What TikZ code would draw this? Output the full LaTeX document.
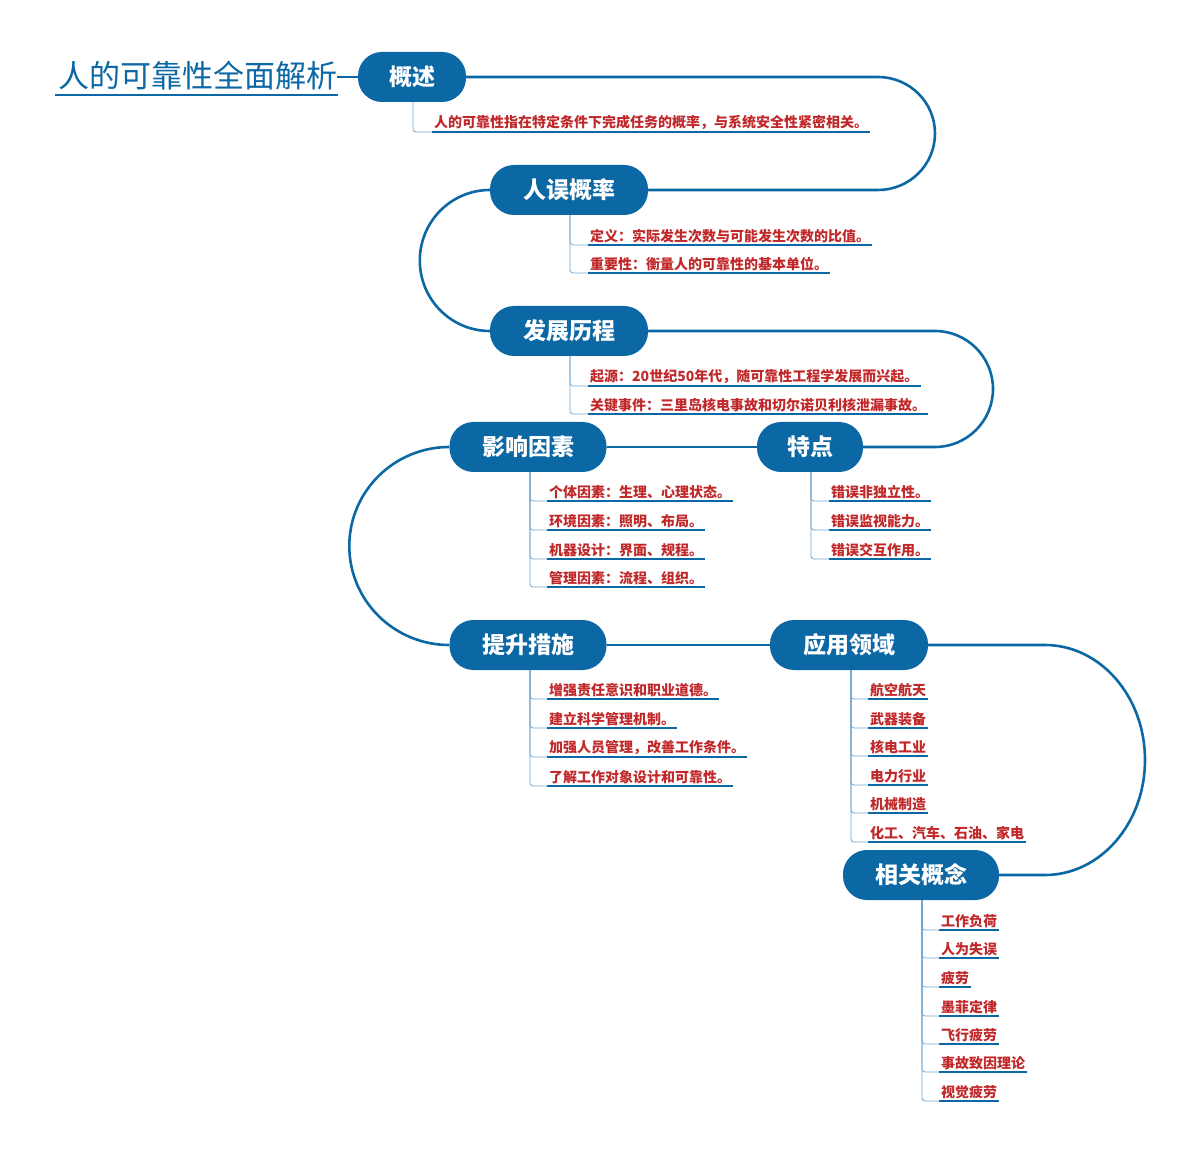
\documentclass[tikz,border=0pt]{standalone}
\usepackage{fontspec}
\setmainfont{Noto Sans CJK SC}
\definecolor{mblue}{HTML}{0B68A4}
\definecolor{mred}{HTML}{C0282A}
\definecolor{lblue}{HTML}{6FA3D0}
\tikzset{
 topic/.style={fill=mblue,text=white,rounded corners=24pt,minimum height=50pt,font=\fontsize{23}{25}\selectfont\bfseries,inner sep=0pt},
 item/.style={text=mred,font=\fontsize{14}{16}\selectfont\bfseries,inner xsep=2pt,inner ysep=2pt,anchor=south west},
 ul/.style={mblue,line width=1.6pt},
 tick/.style={lblue,line width=0.8pt,rounded corners=3pt},
 conn/.style={mblue,line width=2.6pt},
}
\newcommand\kid[5]{% parent, vertical x, underline y, start x, text
 \node[item] (#1k#3) at (#4,#3) {#5};
 \draw[ul] (#1k#3.south west)--(#1k#3.south east);
 \draw[tick] (#1.south -| #2,0) |- (#1k#3.south west);
}
\begin{document}
\begin{tikzpicture}[x=1pt,y=-1pt]
\useasboundingbox (0,0) rectangle (1200,1155);
% title
\node[text=mblue,font=\fontsize{31}{33}\selectfont,anchor=base west,inner sep=0pt] (title) at (58,88) {人的可靠性全面解析};
\draw[mblue,line width=1.2pt] (55,95) -- (338,95);
% topics
\node[topic,minimum width=108pt] (gs) at (412,77) {概述};
\node[topic,minimum width=158pt] (rw) at (569,190) {人误概率};
\node[topic,minimum width=158pt] (fz) at (569,331) {发展历程};
\node[topic,minimum width=157pt] (yx) at (528,447) {影响因素};
\node[topic,minimum width=106pt] (td) at (810,447) {特点};
\node[topic,minimum width=157pt] (ts) at (528,645) {提升措施};
\node[topic,minimum width=158pt] (yy) at (849,645) {应用领域};
\node[topic,minimum width=156pt] (xg) at (921,875) {相关概念};
% connectors
\draw[conn] (title.east |- gs.west) -- (gs.west);
\draw[conn] (gs.east) -- (878,77) arc[start angle=90,end angle=-90,x radius=57,y radius=-56.5] -- (rw.east);
\draw[conn] (rw.west) arc[start angle=90,end angle=270,x radius=70,y radius=-70.5] -- (fz.west);
\draw[conn] (fz.east) -- (935,331) arc[start angle=90,end angle=-90,x radius=58,y radius=-58] -- (td.east);
\draw[conn] (yx.east) -- (td.west);
\draw[conn] (yx.west) arc[start angle=90,end angle=270,x radius=100,y radius=-99] -- (ts.west);
\draw[conn] (ts.east) -- (yy.west);
\draw[conn] (yy.east) -- (1045,645) arc[start angle=90,end angle=-90,x radius=100,y radius=-115] -- (xg.east);
% children
\kid{gs}{413}{132}{432}{人的可靠性指在特定条件下完成任务的概率，与系统安全性紧密相关。}
\kid{rw}{570}{245}{588}{定义：实际发生次数与可能发生次数的比值。}
\kid{rw}{570}{273}{588}{重要性：衡量人的可靠性的基本单位。}
\kid{fz}{570}{386}{588}{起源：20世纪50年代，随可靠性工程学发展而兴起。}
\kid{fz}{570}{414}{588}{关键事件：三里岛核电事故和切尔诺贝利核泄漏事故。}
\kid{yx}{530}{501}{547}{个体因素：生理、心理状态。}
\kid{yx}{530}{530}{547}{环境因素：照明、布局。}
\kid{yx}{530}{559}{547}{机器设计：界面、规程。}
\kid{yx}{530}{587}{547}{管理因素：流程、组织。}
\kid{td}{811}{501}{829}{错误非独立性。}
\kid{td}{811}{530}{829}{错误监视能力。}
\kid{td}{811}{559}{829}{错误交互作用。}
\kid{ts}{530}{699}{547}{增强责任意识和职业道德。}
\kid{ts}{530}{728}{547}{建立科学管理机制。}
\kid{ts}{530}{757}{547}{加强人员管理，改善工作条件。}
\kid{ts}{530}{786}{547}{了解工作对象设计和可靠性。}
\kid{yy}{851}{699}{868}{航空航天}
\kid{yy}{851}{728}{868}{武器装备}
\kid{yy}{851}{756}{868}{核电工业}
\kid{yy}{851}{785}{868}{电力行业}
\kid{yy}{851}{813}{868}{机械制造}
\kid{yy}{851}{842}{868}{化工、汽车、石油、家电}
\kid{xg}{922}{930}{939}{工作负荷}
\kid{xg}{922}{958}{939}{人为失误}
\kid{xg}{922}{987}{939}{疲劳}
\kid{xg}{922}{1016}{939}{墨菲定律}
\kid{xg}{922}{1044}{939}{飞行疲劳}
\kid{xg}{922}{1072}{939}{事故致因理论}
\kid{xg}{922}{1101}{939}{视觉疲劳}
\end{tikzpicture}
\end{document}
